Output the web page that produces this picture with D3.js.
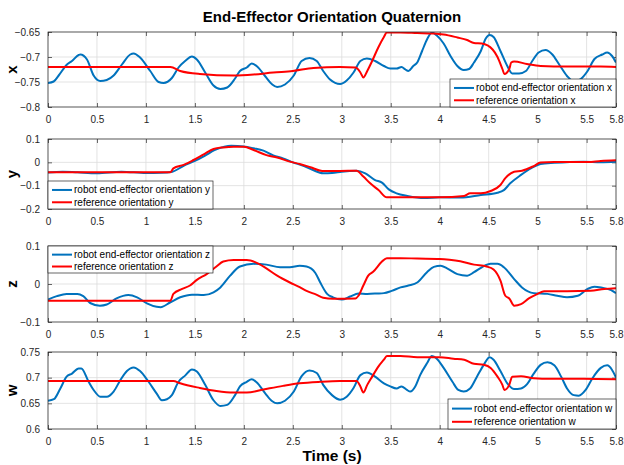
<!DOCTYPE html>
<html><head><meta charset="utf-8">
<script src="https://cdnjs.cloudflare.com/ajax/libs/d3/7.8.5/d3.min.js"></script>
<style>html,body{margin:0;padding:0;background:#fff;}svg{display:block;font-family:"Liberation Sans",Arial,sans-serif;}</style>
</head><body>
<script>
const xTicks = [0,0.5,1,1.5,2,2.5,3,3.5,4,4.5,5,5.5,5.8];
const panelNames = ["x","y","z","w"];
const yDomains = [[-0.8,-0.65],[-0.2,0.1],[-0.1,0.1],[0.6,0.75]];
const yTickSets = [[-0.8,-0.75,-0.7,-0.65],[-0.2,-0.1,0,0.1],[-0.1,0,0.1],[0.6,0.65,0.7,0.75]];
const legendRobot = ["robot end-effector orientation x","robot end-effector orientation y","robot end-effector orientation z","robot end-effector orientation w"];
const legendRef = ["reference orientation x","reference orientation y","reference orientation z","reference orientation w"];

const robotX = [[0,-0.752],[0.058,-0.749],[0.109,-0.737],[0.194,-0.715],[0.245,-0.708],[0.313,-0.696],[0.33,-0.695],[0.398,-0.705],[0.466,-0.737],[0.534,-0.748],[0.60,-0.746],[0.67,-0.737],[0.755,-0.715],[0.84,-0.695],[0.874,-0.693],[0.94,-0.701],[1.044,-0.728],[1.13,-0.75],[1.18,-0.752],[1.265,-0.742],[1.333,-0.721],[1.40,-0.708],[1.47,-0.699],[1.52,-0.705],[1.605,-0.731],[1.69,-0.757],[1.76,-0.764],[1.83,-0.761],[1.91,-0.743],[1.96,-0.728],[2.03,-0.721],[2.08,-0.713],[2.13,-0.718],[2.22,-0.739],[2.29,-0.755],[2.34,-0.760],[2.42,-0.755],[2.51,-0.737],[2.59,-0.708],[2.67,-0.702],[2.744,-0.708],[2.81,-0.728],[2.88,-0.745],[2.983,-0.754],[3.05,-0.747],[3.12,-0.731],[3.19,-0.708],[3.256,-0.703],[3.34,-0.708],[3.43,-0.718],[3.495,-0.723],[3.56,-0.723],[3.61,-0.72],[3.65,-0.725],[3.68,-0.728],[3.73,-0.718],[3.77,-0.711],[3.82,-0.688],[3.87,-0.665],[3.92,-0.651],[3.97,-0.657],[4.04,-0.673],[4.11,-0.698],[4.18,-0.718],[4.245,-0.726],[4.30,-0.724],[4.35,-0.711],[4.42,-0.688],[4.47,-0.663],[4.51,-0.656],[4.55,-0.66],[4.62,-0.688],[4.69,-0.718],[4.74,-0.733],[4.81,-0.733],[4.88,-0.728],[4.945,-0.708],[5.01,-0.691],[5.08,-0.686],[5.15,-0.695],[5.22,-0.715],[5.30,-0.738],[5.37,-0.749],[5.44,-0.744],[5.51,-0.728],[5.58,-0.704],[5.66,-0.695],[5.71,-0.691],[5.76,-0.698],[5.8,-0.711]];
const refX = [[0,-0.72],[1.25,-0.72],[1.35,-0.728],[1.55,-0.734],[1.9,-0.737],[2.1,-0.735],[2.3,-0.731],[2.5,-0.728],[2.71,-0.722],[2.98,-0.72],[3.14,-0.721],[3.19,-0.731],[3.22,-0.741],[3.26,-0.728],[3.31,-0.708],[3.375,-0.68],[3.43,-0.66],[3.46,-0.651],[3.6,-0.651],[3.77,-0.652],[3.94,-0.653],[4.04,-0.655],[4.18,-0.661],[4.28,-0.666],[4.35,-0.672],[4.43,-0.673],[4.54,-0.685],[4.59,-0.70],[4.64,-0.724],[4.66,-0.734],[4.71,-0.724],[4.73,-0.711],[4.76,-0.709],[4.89,-0.714],[5.03,-0.718],[5.3,-0.719],[5.645,-0.719],[5.8,-0.72]];
const robotY = [[0,-0.044],[0.15,-0.040],[0.3,-0.043],[0.5,-0.047],[0.75,-0.040],[1.0,-0.046],[1.15,-0.045],[1.27,-0.040],[1.385,-0.015],[1.5,0.006],[1.6,0.028],[1.7,0.052],[1.8,0.067],[1.87,0.071],[2.0,0.068],[2.1,0.06],[2.2,0.05],[2.3,0.03],[2.4,0.017],[2.5,0.0],[2.6,-0.014],[2.7,-0.032],[2.81,-0.047],[2.9,-0.046],[3.0,-0.04],[3.15,-0.036],[3.24,-0.047],[3.34,-0.076],[3.41,-0.087],[3.48,-0.116],[3.56,-0.133],[3.67,-0.144],[3.84,-0.153],[4.0,-0.15],[4.21,-0.151],[4.42,-0.14],[4.59,-0.13],[4.655,-0.119],[4.72,-0.09],[4.83,-0.054],[4.93,-0.026],[5.03,-0.007],[5.17,-0.002],[5.47,0.003],[5.645,0.0],[5.8,0.002]];
const refY = [[0,-0.042],[1.25,-0.042],[1.28,-0.026],[1.385,-0.011],[1.486,0.01],[1.59,0.034],[1.69,0.057],[1.79,0.064],[1.895,0.067],[2.0,0.067],[2.1,0.053],[2.23,0.031],[2.34,0.021],[2.47,0.003],[2.57,-0.007],[2.68,-0.021],[2.8,-0.037],[2.98,-0.037],[3.15,-0.036],[3.22,-0.061],[3.29,-0.09],[3.375,-0.119],[3.46,-0.15],[4.0,-0.15],[4.25,-0.144],[4.31,-0.133],[4.42,-0.133],[4.52,-0.123],[4.62,-0.097],[4.67,-0.068],[4.76,-0.04],[4.84,-0.036],[4.96,-0.016],[5.03,-0.001],[5.17,0.001],[5.51,0.001],[5.645,0.006],[5.8,0.009]];
const robotZ = [[0,-0.041],[0.09,-0.032],[0.19,-0.026],[0.30,-0.026],[0.36,-0.032],[0.43,-0.05],[0.53,-0.057],[0.6,-0.054],[0.70,-0.038],[0.82,-0.029],[0.91,-0.035],[1.01,-0.051],[1.11,-0.06],[1.15,-0.061],[1.25,-0.048],[1.35,-0.035],[1.47,-0.028],[1.59,-0.029],[1.69,-0.022],[1.76,-0.009],[1.86,0.022],[1.96,0.046],[2.10,0.053],[2.23,0.051],[2.37,0.044],[2.47,0.044],[2.57,0.048],[2.64,0.046],[2.73,0.029],[2.78,0.004],[2.85,-0.026],[2.91,-0.035],[3.0,-0.041],[3.085,-0.033],[3.17,-0.025],[3.26,-0.026],[3.36,-0.025],[3.43,-0.024],[3.51,-0.018],[3.6,-0.009],[3.68,-0.004],[3.77,0.004],[3.87,0.031],[3.94,0.045],[4.01,0.048],[4.075,0.041],[4.18,0.026],[4.28,0.022],[4.35,0.031],[4.43,0.044],[4.52,0.053],[4.59,0.053],[4.655,0.044],[4.76,0.013],[4.84,-0.009],[4.96,-0.024],[5.1,-0.026],[5.2,-0.031],[5.30,-0.035],[5.41,-0.031],[5.51,-0.013],[5.58,-0.007],[5.66,-0.01],[5.75,-0.016],[5.8,-0.024]];
const refZ = [[0,-0.044],[1.25,-0.044],[1.28,-0.026],[1.37,-0.013],[1.45,-0.004],[1.52,0.011],[1.62,0.026],[1.72,0.046],[1.79,0.059],[1.895,0.063],[2.03,0.063],[2.12,0.057],[2.23,0.041],[2.34,0.022],[2.47,0.004],[2.57,-0.008],[2.64,-0.018],[2.74,-0.028],[2.81,-0.036],[2.91,-0.039],[3.14,-0.038],[3.17,-0.031],[3.22,-0.004],[3.27,0.022],[3.32,0.032],[3.41,0.059],[3.46,0.068],[3.6,0.068],[3.77,0.067],[4.0,0.066],[4.1,0.064],[4.21,0.06],[4.35,0.051],[4.48,0.046],[4.55,0.038],[4.62,0.009],[4.67,-0.031],[4.71,-0.038],[4.76,-0.057],[4.83,-0.053],[4.91,-0.038],[5.0,-0.026],[5.065,-0.019],[5.30,-0.019],[5.54,-0.018],[5.68,-0.013],[5.8,-0.011]];
const robotW = [[0,0.655],[0.06,0.658],[0.126,0.679],[0.19,0.702],[0.245,0.708],[0.313,0.718],[0.34,0.718],[0.415,0.692],[0.466,0.676],[0.534,0.663],[0.60,0.663],[0.67,0.673],[0.738,0.695],[0.806,0.713],[0.874,0.72],[0.94,0.713],[1.027,0.692],[1.11,0.669],[1.163,0.656],[1.214,0.658],[1.265,0.666],[1.333,0.692],[1.40,0.704],[1.47,0.716],[1.52,0.712],[1.605,0.686],[1.69,0.656],[1.76,0.645],[1.83,0.647],[1.91,0.666],[1.96,0.683],[2.03,0.692],[2.08,0.697],[2.13,0.691],[2.22,0.669],[2.29,0.654],[2.34,0.65],[2.42,0.655],[2.51,0.673],[2.59,0.703],[2.67,0.714],[2.744,0.709],[2.81,0.686],[2.90,0.666],[2.983,0.657],[3.05,0.663],[3.12,0.68],[3.19,0.705],[3.256,0.71],[3.34,0.702],[3.43,0.689],[3.495,0.683],[3.56,0.679],[3.61,0.683],[3.665,0.676],[3.70,0.673],[3.75,0.683],[3.80,0.705],[3.87,0.728],[3.92,0.742],[3.97,0.737],[4.04,0.719],[4.13,0.692],[4.19,0.676],[4.245,0.673],[4.31,0.679],[4.38,0.702],[4.45,0.725],[4.51,0.74],[4.55,0.735],[4.62,0.713],[4.69,0.689],[4.76,0.678],[4.83,0.679],[4.89,0.687],[4.96,0.708],[5.03,0.725],[5.10,0.73],[5.17,0.724],[5.24,0.702],[5.30,0.679],[5.37,0.666],[5.42,0.665],[5.49,0.676],[5.56,0.699],[5.645,0.719],[5.71,0.724],[5.76,0.715],[5.8,0.70]];
const refW = [[0,0.6935],[1.28,0.6935],[1.35,0.689],[1.55,0.680],[1.72,0.674],[1.895,0.671],[2.03,0.671],[2.2,0.677],[2.4,0.684],[2.57,0.689],[2.78,0.692],[2.98,0.6935],[3.15,0.6935],[3.19,0.683],[3.22,0.671],[3.26,0.686],[3.31,0.702],[3.375,0.722],[3.43,0.735],[3.46,0.742],[3.6,0.742],[3.77,0.74],[4.0,0.74],[4.14,0.737],[4.25,0.735],[4.35,0.727],[4.45,0.725],[4.52,0.719],[4.59,0.702],[4.64,0.686],[4.66,0.676],[4.71,0.686],[4.74,0.702],[4.83,0.703],[4.96,0.699],[5.13,0.698],[5.47,0.698],[5.8,0.697]];

const robotSeries = [robotX, robotY, robotZ, robotW];
const refSeries = [refX, refY, refZ, refW];

const W = 624, H = 465;
const left = 48, right = 616;
const panels = [{top:32,bottom:107},{top:139,bottom:209},{top:246,bottom:322},{top:352,bottom:429}];
const legendPos = [
  {x:450,y:79,w:166,h:28,corner:"br"},
  {x:48,y:181,w:165,h:28,corner:"bl"},
  {x:48,y:246,w:165,h:27,corner:"tl"},
  {x:448,y:399,w:168,h:30,corner:"br"}
];
const BLUE = "#0072BD", RED = "#FF0000", AX = "#262626";

const svg = d3.select("body").append("svg").attr("width",W).attr("height",H);
svg.append("rect").attr("width",W).attr("height",H).attr("fill","#fff");

const x = d3.scaleLinear().domain([0,5.8]).range([left,right]);

panels.forEach((p,i)=>{
  const y = d3.scaleLinear().domain(yDomains[i]).range([p.bottom,p.top]);
  const g = svg.append("g");
  // grid
  g.append("g").selectAll("line").data(xTicks).join("line")
    .attr("x1",d=>x(d)).attr("x2",d=>x(d)).attr("y1",p.top).attr("y2",p.bottom)
    .attr("stroke","#dcdcdc").attr("stroke-width",0.8);
  g.append("g").selectAll("line").data(yTickSets[i]).join("line")
    .attr("x1",left).attr("x2",right).attr("y1",d=>y(d)).attr("y2",d=>y(d))
    .attr("stroke","#dcdcdc").attr("stroke-width",0.8);
  // axes (inside ticks)
  const xb = d3.axisBottom(x).tickValues(xTicks).tickSize(-4).tickPadding(9).tickFormat(d3.format("~g"));
  const xt = d3.axisTop(x).tickValues(xTicks).tickSize(-4).tickFormat("");
  const yl = d3.axisLeft(y).tickValues(yTickSets[i]).tickSize(-4).tickPadding(8).tickFormat(d3.format("~g"));
  const yr = d3.axisRight(y).tickValues(yTickSets[i]).tickSize(-4).tickFormat("");
  [[xb,`translate(0,${p.bottom})`],[xt,`translate(0,${p.top})`],[yl,`translate(${left},0)`],[yr,`translate(${right},0)`]].forEach(([ax,tr])=>{
    const a = g.append("g").attr("transform",tr).call(ax);
    a.select(".domain").remove();
    a.selectAll("line").attr("stroke",AX).attr("stroke-width",0.7);
    a.selectAll("text").attr("fill",AX).attr("font-size",10).attr("font-family","Liberation Sans, Arial, sans-serif");
  });
  // clip
  const cid = "clip"+i;
  svg.append("clipPath").attr("id",cid).append("rect").attr("x",left).attr("y",p.top).attr("width",right-left).attr("height",p.bottom-p.top);
  const line = d3.line().x(d=>x(d[0])).y(d=>y(d[1])).curve(d3.curveMonotoneX);
  const lg = g.append("g").attr("clip-path",`url(#${cid})`);
  lg.append("path").datum(robotSeries[i]).attr("d",line).attr("fill","none").attr("stroke",BLUE).attr("stroke-width",2).attr("stroke-linejoin","round");
  lg.append("path").datum(refSeries[i]).attr("d",line).attr("fill","none").attr("stroke",RED).attr("stroke-width",2).attr("stroke-linejoin","round");
  // box
  g.append("rect").attr("x",left).attr("y",p.top).attr("width",right-left).attr("height",p.bottom-p.top)
    .attr("fill","none").attr("stroke",AX).attr("stroke-width",0.7);
  // y label
  svg.append("text").attr("transform",`translate(17,${(p.top+p.bottom)/2}) rotate(-90)`)
    .attr("text-anchor","middle").attr("font-weight","bold").attr("font-size",15).attr("fill","#000").text(panelNames[i]);
  // legend
  const L = legendPos[i];
  const lgd = svg.append("g");
  lgd.append("rect").attr("x",L.x).attr("y",L.y).attr("width",L.w).attr("height",L.h).attr("fill","#fff").attr("stroke",AX).attr("stroke-width",0.7);
  const rowY = [L.y + L.h*0.32, L.y + L.h*0.76];
  [[BLUE,legendRobot[i]],[RED,legendRef[i]]].forEach(([c,t],k)=>{
    lgd.append("line").attr("x1",L.x+4).attr("x2",L.x+24).attr("y1",rowY[k]).attr("y2",rowY[k]).attr("stroke",c).attr("stroke-width",2);
    lgd.append("text").attr("x",L.x+26).attr("y",rowY[k]).attr("dy","0.35em").attr("font-size",10).attr("fill","#000").text(t);
  });
});

svg.append("text").attr("x",332).attr("y",22).attr("text-anchor","middle").attr("font-weight","bold").attr("font-size",15).attr("fill","#000").text("End-Effector Orientation Quaternion");
svg.append("text").attr("x",332).attr("y",461).attr("text-anchor","middle").attr("font-weight","bold").attr("font-size",15.5).attr("fill","#000").text("Time (s)");
</script>
</body></html>
